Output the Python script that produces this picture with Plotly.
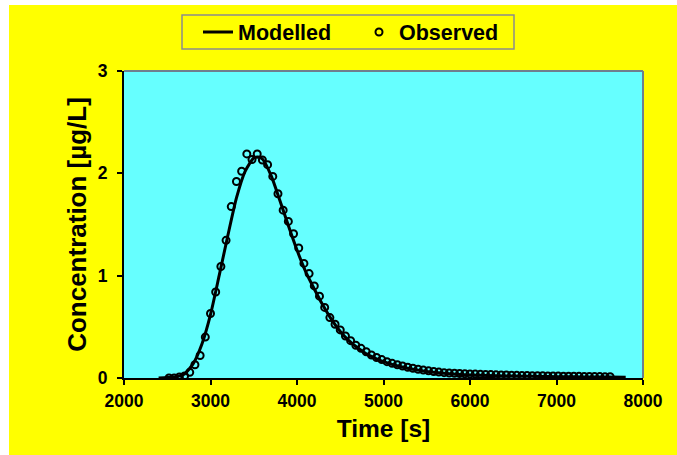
import plotly.graph_objects as go

# Observed concentrations (sampled every 60 s)
obs_time = [
    2520, 2580, 2640, 2700, 2760, 2820, 2880, 2940, 3000, 3060,
    3120, 3180, 3240, 3300, 3360, 3420, 3480, 3540, 3600, 3660,
    3720, 3780, 3840, 3900, 3960, 4020, 4080, 4140, 4200, 4260,
    4320, 4380, 4440, 4500, 4560, 4620, 4680, 4740, 4800, 4860,
    4920, 4980, 5040, 5100, 5160, 5220, 5280, 5340, 5400, 5460,
    5520, 5580, 5640, 5700, 5760, 5820, 5880, 5940, 6000, 6060,
    6120, 6180, 6240, 6300, 6360, 6420, 6480, 6540, 6600, 6660,
    6720, 6780, 6840, 6900, 6960, 7020, 7080, 7140, 7200, 7260,
    7320, 7380, 7440, 7500, 7560, 7620,
]
obs_conc = [
    0.00, 0.00, 0.01, 0.02, 0.055, 0.13, 0.22, 0.40, 0.63, 0.84,
    1.09, 1.345, 1.675, 1.92, 2.02, 2.19, 2.135, 2.19, 2.13, 2.085,
    1.97, 1.80, 1.64, 1.53, 1.41, 1.27, 1.12, 1.02, 0.90, 0.80,
    0.69, 0.59, 0.525, 0.47, 0.41, 0.365, 0.32, 0.29, 0.257, 0.225,
    0.20, 0.18, 0.16, 0.143, 0.13, 0.117, 0.105, 0.095, 0.085, 0.077,
    0.070, 0.064, 0.058, 0.052, 0.048, 0.046, 0.044, 0.042, 0.040, 0.038,
    0.036, 0.035, 0.033, 0.031, 0.030, 0.029, 0.027, 0.026, 0.025, 0.024,
    0.023, 0.022, 0.021, 0.020, 0.020, 0.019, 0.018, 0.017, 0.017, 0.016,
    0.015, 0.015, 0.014, 0.014, 0.013, 0.012,
]

# Modelled breakthrough curve
model_time = [
    2400, 2500, 2600, 2700, 2800, 2900, 3000, 3100, 3200, 3300,
    3400, 3500, 3550, 3600, 3700, 3800, 3900, 4000, 4100, 4200,
    4300, 4400, 4500, 4600, 4700, 4800, 4900, 5000, 5200, 5400,
    5600, 5800, 6000, 6200, 6400, 6600, 6800, 7000, 7200, 7400,
    7600, 7800,
]
model_conc = [
    0.0, 0.004, 0.012, 0.04, 0.14, 0.33, 0.62, 1.00, 1.39, 1.76,
    2.02, 2.15, 2.16, 2.14, 1.98, 1.74, 1.49, 1.25, 1.04, 0.87,
    0.71, 0.57, 0.455, 0.365, 0.295, 0.237, 0.195, 0.16, 0.11, 0.077,
    0.054, 0.039, 0.030, 0.024, 0.020, 0.017, 0.015, 0.013, 0.011, 0.010,
    0.009, 0.008,
]

x_ticks = [2000, 3000, 4000, 5000, 6000, 7000, 8000]
y_ticks = [0, 1, 2, 3]

W, H = 677, 455
ML, MR, MT, MB = 124, 34, 71, 77
PW, PH = W - ML - MR, H - MT - MB

def px_x(p):
    return (p - ML) / PW

def px_y(p):
    return (H - MB - p) / PH

FONT = "Liberation Sans, Arial, sans-serif"
YELLOW = "#FFFF00"
CYAN = "#66FFFF"

fig = go.Figure()
fig.add_trace(go.Scatter(
    x=model_time, y=model_conc, mode="lines", name="Modelled",
    line=dict(color="black", width=3, shape="spline", smoothing=0.6),
))
fig.add_trace(go.Scatter(
    x=obs_time, y=obs_conc, mode="markers", name="Observed",
    marker=dict(symbol="circle-open", size=7, color="black",
                line=dict(color="black", width=2)),
))

shapes = [
    # white page strip on the left and top edges
    dict(type="rect", xref="paper", yref="paper",
         x0=px_x(0), x1=px_x(9), y0=px_y(H), y1=px_y(0),
         fillcolor="white", line=dict(width=0), layer="below"),
    dict(type="rect", xref="paper", yref="paper",
         x0=px_x(0), x1=px_x(W), y0=px_y(5), y1=px_y(0),
         fillcolor="white", line=dict(width=0), layer="below"),
    # legend frame
    dict(type="rect", xref="paper", yref="paper",
         x0=px_x(182), x1=px_x(514), y0=px_y(49), y1=px_y(15),
         fillcolor=YELLOW, line=dict(color="#8c8c8c", width=1.5), layer="below"),
    # grey frame on top and right of the plot area
    dict(type="line", xref="paper", yref="paper", x0=0, x1=1, y0=1, y1=1,
         line=dict(color="#6f7f8f", width=2)),
    dict(type="line", xref="paper", yref="paper", x0=1, x1=1, y0=0, y1=1,
         line=dict(color="#6f7f8f", width=2)),
]

axis_common = dict(
    showline=True, linecolor="black", linewidth=2,
    ticks="outside", ticklen=5, tickwidth=1.5, tickcolor="black",
    showgrid=False, zeroline=False,
    tickfont=dict(family=FONT, size=17.5, color="black", weight="bold"),
)

fig.update_layout(
    width=W, height=H,
    margin=dict(l=ML, r=MR, t=MT, b=MB, pad=0),
    paper_bgcolor=YELLOW, plot_bgcolor=CYAN,
    showlegend=True,
    legend=dict(
        orientation="h", x=px_x(198), xanchor="left",
        y=px_y(32), yanchor="middle",
        bgcolor="rgba(0,0,0,0)", borderwidth=0,
        font=dict(family=FONT, size=21.5, color="black", weight="bold"),
        entrywidth=116, entrywidthmode="pixels",
    ),
    xaxis=dict(
        range=[2000, 8000], tickvals=x_ticks,
        title=dict(text="Time [s]", standoff=10,
                   font=dict(family=FONT, size=24.5, color="black", weight="bold")),
        ticklabelstandoff=1,
        **axis_common,
    ),
    yaxis=dict(
        range=[0, 3], tickvals=y_ticks,
        title=dict(text="Concentration [µg/L]", standoff=4,
                   font=dict(family=FONT, size=26, color="black", weight="bold")),
        ticklabelstandoff=6,
        **axis_common,
    ),
    shapes=shapes,
)

fig.write_html("out.html")
